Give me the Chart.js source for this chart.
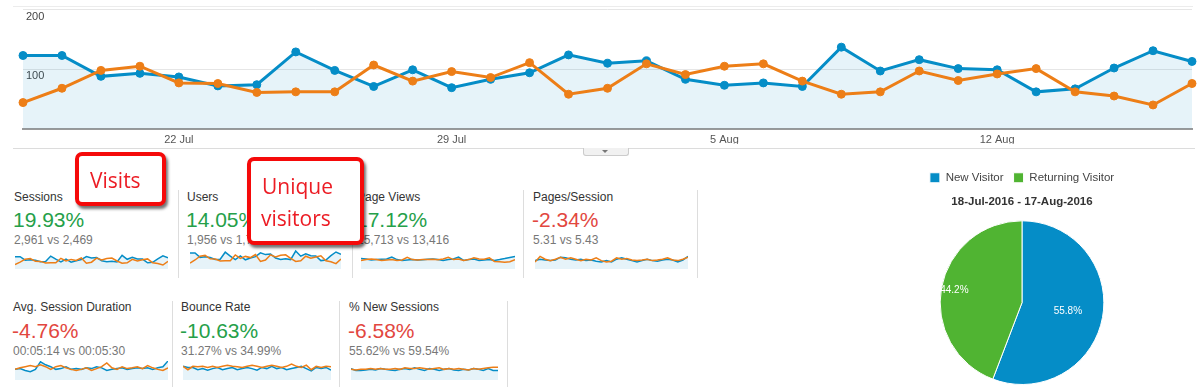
<!DOCTYPE html>
<html>
<head>
<meta charset="utf-8">
<script src="https://cdn.jsdelivr.net/npm/chart.js@4.4.1/dist/chart.umd.min.js"></script>
<style>
  html, body { margin: 0; padding: 0; background: #fff; }
  body { width: 1200px; height: 387px; position: relative; overflow: hidden;
         font-family: Arial, "Liberation Sans", sans-serif; }
  .abs { position: absolute; white-space: nowrap; }
  .lbl { font-size: 12px; line-height: 14px; color: #333; }
  .big { font-size: 21px; line-height: 26px; }
  .sub { font-size: 12px; line-height: 14px; color: #777; }
  .pos { color: #25a049; }
  .neg { color: #e2473f; }
  .sep { position: absolute; width: 1px; background: #ddd; }
  .hline { position: absolute; height: 1px; background: #e2e2e2; }
  .note { position: absolute; box-sizing: border-box; border: 4px solid #f50a0a; border-radius: 7px;
          background: #fff; box-shadow: 2px 3px 3px rgba(0,0,0,0.55);
          font-family: "Open Sans", Arial, sans-serif; font-size: 21px; color: #ec1c24; }
  .note span { position: absolute; line-height: 28px; white-space: nowrap; }
  canvas { position: absolute; }
</style>
</head>
<body>

<canvas id="main" width="1200" height="149" style="left:0;top:0"></canvas>
<div class="hline" style="left:13px;top:6px;width:1180px;background:#ececec"></div>
<div class="hline" style="left:13px;top:148px;width:1182px;background:#dcdcdc"></div>
<div class="abs" style="left:583px;top:148px;width:44px;height:7px;background:#f1f1f1;border:1px solid #ccc;border-top:none;border-radius:0 0 3px 3px"></div>
<div class="abs" style="left:602px;top:150px;width:0;height:0;border-left:3px solid transparent;border-right:3px solid transparent;border-top:3px solid #777"></div>

<!-- row 1 -->
<div class="abs lbl" style="left:14px;top:190px">Sessions</div>
<div class="abs big pos" style="left:13px;top:207px">19.93%</div>
<div class="abs sub" style="left:14px;top:233px">2,961 vs 2,469</div>
<div class="sep" style="left:178px;top:190px;height:88px"></div>

<div class="abs lbl" style="left:187px;top:190px">Users</div>
<div class="abs big pos" style="left:186px;top:207px">14.05%</div>
<div class="abs sub" style="left:187px;top:233px">1,956 vs 1,715</div>
<div class="sep" style="left:352px;top:190px;height:88px"></div>

<div class="abs lbl" style="left:357px;top:190px">Page Views</div>
<div class="abs big pos" style="left:356px;top:207px">17.12%</div>
<div class="abs sub" style="left:357px;top:233px">15,713 vs 13,416</div>
<div class="sep" style="left:523px;top:190px;height:88px"></div>

<div class="abs lbl" style="left:533px;top:190px">Pages/Session</div>
<div class="abs big neg" style="left:532px;top:207px">-2.34%</div>
<div class="abs sub" style="left:533px;top:233px">5.31 vs 5.43</div>
<div class="sep" style="left:697px;top:190px;height:88px"></div>

<!-- row 2 -->
<div class="abs lbl" style="left:13px;top:300px">Avg. Session Duration</div>
<div class="abs big neg" style="left:12px;top:318px">-4.76%</div>
<div class="abs sub" style="left:13px;top:344px">00:05:14 vs 00:05:30</div>
<div class="sep" style="left:172px;top:301px;height:86px"></div>

<div class="abs lbl" style="left:181px;top:300px">Bounce Rate</div>
<div class="abs big pos" style="left:180px;top:318px">-10.63%</div>
<div class="abs sub" style="left:181px;top:344px">31.27% vs 34.99%</div>
<div class="sep" style="left:339px;top:301px;height:86px"></div>

<div class="abs lbl" style="left:349px;top:300px">% New Sessions</div>
<div class="abs big neg" style="left:348px;top:318px">-6.58%</div>
<div class="abs sub" style="left:349px;top:344px">55.62% vs 59.54%</div>
<div class="sep" style="left:507px;top:301px;height:86px"></div>

<!-- sparklines -->
<canvas id="spSessions" width="153" height="20" style="left:15px;top:249px"></canvas>
<canvas id="spUsers" width="151" height="20" style="left:190px;top:249px"></canvas>
<canvas id="spPageViews" width="154" height="20" style="left:361px;top:249px"></canvas>
<canvas id="spPagesSession" width="153" height="20" style="left:535px;top:249px"></canvas>
<canvas id="spDuration" width="153" height="19" style="left:15px;top:361px"></canvas>
<canvas id="spBounce" width="148" height="19" style="left:183px;top:361px"></canvas>
<canvas id="spNewSessions" width="147" height="19" style="left:351px;top:361px"></canvas>

<!-- annotations -->
<div class="note" style="left:75px;top:152px;width:91px;height:54px"><span style="left:11px;top:10px">Visits</span></div>
<div class="note" style="left:247px;top:157px;width:117px;height:88px"><span style="left:11px;top:11px">Unique</span><span style="left:10px;top:43px">visitors</span></div>

<canvas id="pie" width="250" height="225" style="left:897px;top:162px"></canvas>

<script>
const BLUE = '#058dc7';
const ORANGE = '#ed7e17';
const GREEN = '#50b432';
const FILL = 'rgba(5,141,199,0.1)';

const days = ['18 Jul','19 Jul','20 Jul','21 Jul','22 Jul','23 Jul','24 Jul','25 Jul','26 Jul','27 Jul',
  '28 Jul','29 Jul','30 Jul','31 Jul','1 Aug','2 Aug','3 Aug','4 Aug','5 Aug','6 Aug','7 Aug',
  '8 Aug','9 Aug','10 Aug','11 Aug','12 Aug','13 Aug','14 Aug','15 Aug','16 Aug','17 Aug'];
const tickLabels = ['22 Jul', '29 Jul', '5 Aug', '12 Aug'];
const yTicks = [100, 200];

// sessions, this period vs previous period
const sessionsCurrent = [123,123,88,93,87,72,74,129,98,71,99,69,83,94,124,110,114,83,73,77,71,137,97,116,101,99,62,67,102,131,113];
const sessionsPrevious = [44,68,98,105,77,76,61,62,62,107,80,96,86,111,58,68,109,91,105,109,80,58,62,97,81,92,101,62,55,40,76];

// sparklines
const usersCurrent = [80,80,58,61,57,48,49,84,64,47,65,46,55,62,81,72,75,55,48,51,47,90,64,76,66,65,42,45,67,85,74];
const usersPrevious = [30,45,64,68,51,50,40,41,41,70,53,63,57,72,38,45,71,60,69,71,53,38,41,64,54,60,66,41,36,27,50];
const pageViewsCurrent = [520,500,450,470,490,500,600,470,430,450,470,450,460,490,500,470,430,470,500,600,430,470,500,430,450,470,430,470,520,580,620];
const pageViewsPrevious = [420,470,500,470,430,450,470,430,450,580,470,450,470,480,490,460,500,580,470,500,430,470,560,500,490,560,380,360,340,360,470];
const pagesSessionCurrent = [4.2,4.9,4.5,4.2,4.5,5.9,5.6,4.9,4.5,4.9,4.2,4.5,3.9,3.5,4.2,3.5,4.9,5.6,4.9,4.2,3.5,4.2,4.9,4.2,3.9,4.5,4.9,4.5,3.5,4.5,6.3];
const pagesSessionPrevious = [3.5,6.3,4.9,4.2,4.9,5.9,4.9,5.6,4.9,4.2,4.9,4.5,5.6,4.2,3.5,3.9,5.6,4.9,5.3,4.5,4.2,4.5,4.9,4.2,4.5,4.9,5.6,4.5,4.2,4.9,5.9];
const durationCurrent = [280,300,250,220,280,480,400,350,280,300,350,280,300,280,320,300,350,320,250,280,300,320,280,300,320,300,320,280,320,350,500];
const durationPrevious = [280,320,350,380,350,400,350,280,350,380,320,280,250,280,320,250,300,350,450,320,280,350,300,320,350,300,380,320,280,250,320];
const bounceCurrent = [36,33,33,27,30,26,30,33,27,30,33,27,30,33,30,26,33,30,36,30,33,27,30,33,36,30,24,33,30,33,26];
const bouncePrevious = [36,27,36,35,36,33,36,33,36,39,36,35,33,36,39,36,33,36,39,36,33,36,42,36,33,39,27,36,33,36,35];
const newSessCurrent = [60,50,50,53,56,53,60,56,53,50,56,60,56,64,56,50,60,56,50,56,60,53,50,56,53,60,56,50,60,50,50];
const newSessPrevious = [56,53,56,56,60,56,60,56,56,60,56,64,60,60,64,60,56,60,64,56,60,56,60,56,53,60,56,60,64,67,67];

// pie
const visitorTypes = ['New Visitor', 'Returning Visitor'];
const visitorShare = [55.8, 44.2];
const dateRange = '18-Jul-2016 - 17-Aug-2016';

Chart.defaults.font.family = 'Arial, "Liberation Sans", sans-serif';
Chart.defaults.animation = false;

new Chart(document.getElementById('main'), {
  type: 'line',
  data: {
    labels: days,
    datasets: [
      { data: sessionsCurrent, borderColor: BLUE, backgroundColor: FILL, fill: 'origin',
        borderWidth: 3, pointRadius: 4, pointBackgroundColor: BLUE, pointBorderColor: BLUE,
        pointBorderWidth: 1, order: 2 },
      { data: sessionsPrevious, borderColor: ORANGE, fill: false,
        borderWidth: 3, pointRadius: 4, pointBackgroundColor: ORANGE, pointBorderColor: ORANGE,
        pointBorderWidth: 1, order: 1 }
    ]
  },
  options: {
    responsive: false,
    devicePixelRatio: 1,
    layout: { padding: { left: 17, right: 8, top: 0, bottom: 5 } },
    plugins: { legend: { display: false }, tooltip: { enabled: false } },
    scales: {
      x: {
        grid: { display: false },
        border: { color: '#9a9a9a', width: 2 },
        ticks: {
          autoSkip: false, maxRotation: 0, padding: -3, color: '#555', font: { size: 11 },
          callback: function (v) { const l = days[v]; return tickLabels.includes(l) ? l : null; }
        }
      },
      y: {
        min: 0, max: 200,
        afterBuildTicks: function (s) { s.ticks = [0].concat(yTicks).map(v => ({ value: v })); },
        grid: { color: '#e6e6e6', drawTicks: false },
        border: { display: false },
        ticks: {
          mirror: true, padding: 3, labelOffset: 7, color: '#444', font: { size: 11 },
          callback: v => (v === 0 ? '' : v)
        }
      }
    }
  }
});

function spark(id, cur, prev) {
  new Chart(document.getElementById(id), {
    type: 'line',
    data: {
      labels: days,
      datasets: [
        { data: prev, borderColor: ORANGE, borderWidth: 1.5, fill: false, pointRadius: 0, order: 1 },
        { data: cur, borderColor: BLUE, backgroundColor: FILL, borderWidth: 1.5, fill: 'origin', pointRadius: 0, order: 2 }
      ]
    },
    options: {
      responsive: false,
      devicePixelRatio: 1,
      layout: { padding: 0 },
      plugins: { legend: { display: false }, tooltip: { enabled: false } },
      scales: { x: { display: false }, y: { display: false, min: 0 } }
    }
  });
}

spark('spSessions', sessionsCurrent, sessionsPrevious);
spark('spUsers', usersCurrent, usersPrevious);
spark('spPageViews', pageViewsCurrent, pageViewsPrevious);
spark('spPagesSession', pagesSessionCurrent, pagesSessionPrevious);
spark('spDuration', durationCurrent, durationPrevious);
spark('spBounce', bounceCurrent, bouncePrevious);
spark('spNewSessions', newSessCurrent, newSessPrevious);

const pieLabels = {
  id: 'pieLabels',
  afterDatasetsDraw(chart, args, opts) {
    const ctx = chart.ctx;
    chart.getDatasetMeta(0).data.forEach((arc, i) => {
      const p = arc.getProps(['x', 'y', 'startAngle', 'endAngle', 'outerRadius']);
      const a = (p.startAngle + p.endAngle) / 2;
      const r = p.outerRadius * opts.radius[i];
      ctx.save();
      ctx.fillStyle = '#fff';
      ctx.font = '10px Arial, "Liberation Sans", sans-serif';
      ctx.textAlign = 'center';
      ctx.textBaseline = 'middle';
      ctx.fillText(visitorShare[i].toFixed(1) + '%', p.x + Math.cos(a) * r, p.y + Math.sin(a) * r);
      ctx.restore();
    });
  }
};

new Chart(document.getElementById('pie'), {
  type: 'pie',
  data: {
    labels: visitorTypes,
    datasets: [{ data: visitorShare, backgroundColor: [BLUE, GREEN], borderColor: '#fff', borderWidth: 1 }]
  },
  options: {
    responsive: false,
    devicePixelRatio: 1,
    layout: { padding: { bottom: 2 } },
    plugins: {
      legend: { position: 'top', weight: 3000,
        labels: { boxWidth: 10, boxHeight: 10, color: '#444', font: { size: 11.5 }, padding: 10 } },
      title: { display: true, text: dateRange, weight: 1000, color: '#333',
        font: { size: 11.5, weight: 'bold' }, padding: { top: 1, bottom: 12 } },
      tooltip: { enabled: false },
      pieLabels: { radius: [0.57, 0.84] }
    }
  },
  plugins: [pieLabels]
});
</script>
</body>
</html>
